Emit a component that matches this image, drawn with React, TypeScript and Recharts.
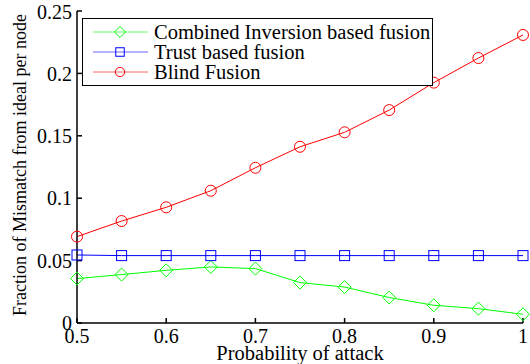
import { LineChart, Line, XAxis, YAxis, Legend } from 'recharts';

const probs = [0.5, 0.55, 0.6, 0.65, 0.7, 0.75, 0.8, 0.85, 0.9, 0.95, 1];
const combined = [0.0356, 0.0388, 0.0422, 0.0449, 0.0436, 0.0324, 0.0288, 0.0204, 0.0142, 0.0115, 0.007];
const trust = [0.0545, 0.054, 0.054, 0.054, 0.054, 0.054, 0.054, 0.054, 0.054, 0.054, 0.054];
const blind = [0.0692, 0.0817, 0.0927, 0.106, 0.1244, 0.1412, 0.1528, 0.1706, 0.1926, 0.2123, 0.2308];

const xTicks = [0.5, 0.6, 0.7, 0.8, 0.9, 1];
const yTicks = [0, 0.05, 0.1, 0.15, 0.2, 0.25];

const seriesNames = ['Combined Inversion based fusion', 'Trust based fusion', 'Blind Fusion'];

const FONT = '"Liberation Serif", "DejaVu Serif", serif';
const GREEN = '#00ff00';
const BLUE = '#0000ff';
const RED = '#ff0000';

const data = probs.map((p, i) => ({ p, combined: combined[i], trust: trust[i], blind: blind[i] }));

function Marker({ kind, cx, cy, color, s = 1 }: { kind: string; cx: number; cy: number; color: string; s?: number }) {
  if (kind === 'diamond') {
    const d = 6.5 * s;
    return <path d={`M${cx},${cy - d}L${cx + d},${cy}L${cx},${cy + d}L${cx - d},${cy}Z`} fill="none" stroke={color} strokeWidth={1} />;
  }
  if (kind === 'square') {
    const h = 5 * s;
    return <rect x={cx - h} y={cy - h} width={2 * h} height={2 * h} fill="none" stroke={color} strokeWidth={1} />;
  }
  return <circle cx={cx} cy={cy} r={5.5 * s} fill="none" stroke={color} strokeWidth={1} />;
}

const dotFor = (kind: string, color: string) => (props: any) => (
  <g key={`${kind}-${props.index}`}>
    <Marker kind={kind} cx={props.cx} cy={props.cy} color={color} />
  </g>
);

const legendItems = [
  { name: seriesNames[0], kind: 'diamond', color: GREEN },
  { name: seriesNames[1], kind: 'square', color: BLUE },
  { name: seriesNames[2], kind: 'circle', color: RED },
];

function LegendBox() {
  return (
    <div
      style={{
        border: '1.5px solid #000',
        background: '#fff',
        width: 349,
        height: 66,
        boxSizing: 'content-box',
        fontFamily: FONT,
        fontSize: 20.5,
        color: '#000',
      }}
    >
      {legendItems.map((it) => (
        <div key={it.name} style={{ display: 'flex', alignItems: 'center', height: 20, marginTop: it === legendItems[0] ? 3 : 0 }}>
          <svg width={70} height={20} style={{ marginLeft: 9, flex: 'none' }}>
            <line x1={1} x2={56} y1={10} y2={10} stroke={it.color} strokeOpacity={0.6} strokeWidth={1} />
            <Marker kind={it.kind} cx={28} cy={10} color={it.color} s={0.85} />
          </svg>
          <span style={{ whiteSpace: 'nowrap', marginLeft: -8, lineHeight: '20px' }}>{it.name}</span>
        </div>
      ))}
    </div>
  );
}

const tickStyle = { fill: '#000', fontSize: 20, style: { fontFamily: FONT } };

export default function App() {
  return (
    <div style={{ position: 'absolute', left: 0, top: 0, width: 530, height: 364, background: '#fff', fontFamily: FONT }}>
      <LineChart width={530} height={364} data={data} margin={{ top: 11, right: 7, left: 0, bottom: 0 }} style={{ fontFamily: FONT }}>
        <XAxis
          dataKey="p"
          type="number"
          domain={[0.5, 1]}
          ticks={xTicks}
          height={41}
          stroke="#000"
          strokeWidth={1.5}
          tickSize={-5}
          tickMargin={11}
          tick={tickStyle}
          label={{
            content: (props: any) => {
              const vb = props.viewBox;
              return (
                <text x={vb.x + vb.width / 2} y={359.5} textAnchor="middle" style={{ fontFamily: FONT }} fontSize={20.5} fill="#000">
                  Probability of attack
                </text>
              );
            },
          }}
        />
        <XAxis
          xAxisId="top"
          orientation="top"
          dataKey="p"
          type="number"
          domain={[0.5, 1]}
          ticks={xTicks}
          height={0}
          stroke="#000"
          strokeWidth={1.5}
          tickSize={-5}
          tickFormatter={() => ''}
        />
        <YAxis
          type="number"
          domain={[0, 0.25]}
          ticks={yTicks}
          width={77}
          stroke="#000"
          strokeWidth={1.5}
          tickSize={-5}
          tickMargin={10}
          tick={tickStyle}
          label={{
            content: () => {
              const cy = 165;
              return (
                <text
                  x={26}
                  y={cy}
                  transform={`rotate(-90, 26, ${cy})`}
                  textAnchor="middle"
                  style={{ fontFamily: FONT }}
                  fontSize={18}
                  fill="#000"
                >
                  Fraction of Mismatch from ideal per node
                </text>
              );
            },
          }}
        />
        <YAxis
          yAxisId="right"
          orientation="right"
          type="number"
          domain={[0, 0.25]}
          ticks={yTicks}
          width={0}
          stroke="#000"
          strokeWidth={1.5}
          tickSize={-5}
          tickFormatter={() => ''}
        />
        <Legend
          layout="vertical"
          align="center"
          verticalAlign="middle"
          wrapperStyle={{ left: 82, top: 18, width: 352, height: 69 }}
          content={() => <LegendBox />}
        />
        <Line
          dataKey="combined"
          name={seriesNames[0]}
          stroke={GREEN}
          strokeWidth={1}
          dot={dotFor('diamond', GREEN)}
          isAnimationActive={false}
        />
        <Line
          dataKey="trust"
          name={seriesNames[1]}
          stroke={BLUE}
          strokeWidth={1}
          dot={dotFor('square', BLUE)}
          isAnimationActive={false}
        />
        <Line
          dataKey="blind"
          name={seriesNames[2]}
          stroke={RED}
          strokeWidth={1}
          dot={dotFor('circle', RED)}
          isAnimationActive={false}
        />
      </LineChart>
    </div>
  );
}
